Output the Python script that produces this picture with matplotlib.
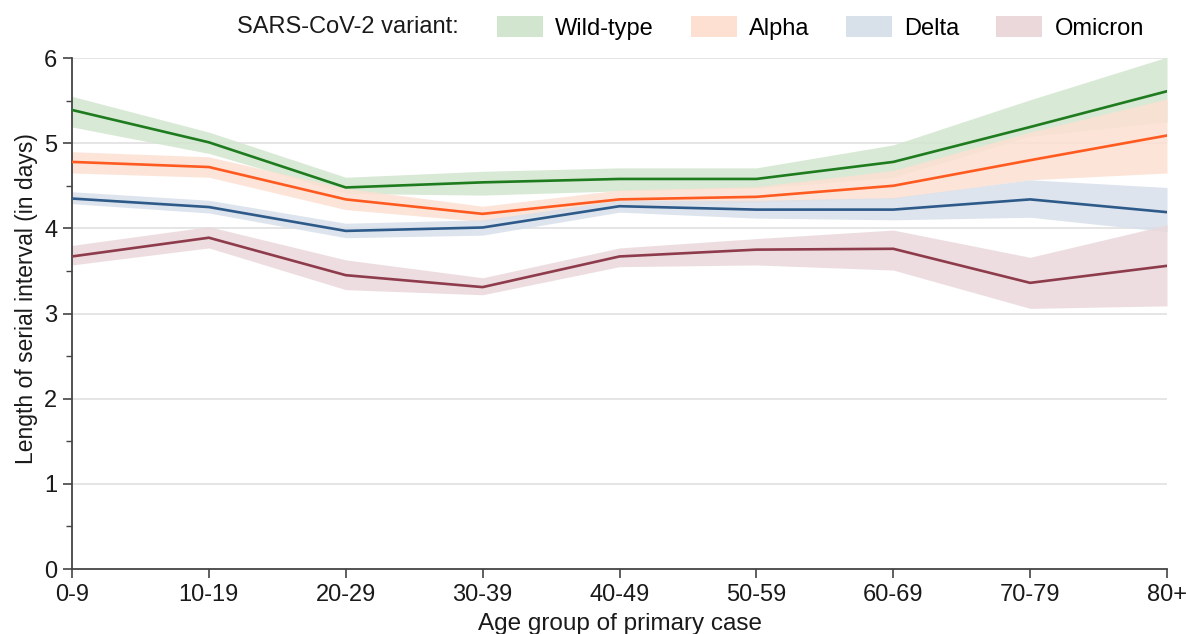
import matplotlib
matplotlib.use("Agg")
import matplotlib.pyplot as plt
from matplotlib.patches import Patch
import numpy as np

plt.rcParams['font.family'] = ['Liberation Sans', 'DejaVu Sans']

# Data
# ---------------------------
age_groups = ['0-9', '10-19', '20-29', '30-39', '40-49', '50-59', '60-69', '70-79', '80+']

wild_mid = [5.39, 5.01, 4.48, 4.54, 4.58, 4.58, 4.78, 5.19, 5.61]
wild_lo  = [5.19, 4.88, 4.41, 4.39, 4.44, 4.47, 4.60, 5.08, 5.25]
wild_hi  = [5.55, 5.13, 4.60, 4.67, 4.71, 4.71, 4.98, 5.51, 6.01]

alpha_mid = [4.78, 4.72, 4.34, 4.17, 4.34, 4.37, 4.50, 4.80, 5.09]
alpha_lo  = [4.65, 4.60, 4.22, 4.08, 4.25, 4.31, 4.35, 4.57, 4.65]
alpha_hi  = [4.90, 4.84, 4.47, 4.26, 4.45, 4.49, 4.68, 5.13, 5.52]

delta_mid = [4.35, 4.25, 3.97, 4.01, 4.26, 4.22, 4.22, 4.34, 4.19]
delta_lo  = [4.29, 4.18, 3.89, 3.92, 4.19, 4.12, 4.10, 4.13, 3.96]
delta_hi  = [4.43, 4.33, 4.06, 4.10, 4.33, 4.33, 4.36, 4.57, 4.48]

omi_mid = [3.67, 3.89, 3.45, 3.31, 3.67, 3.75, 3.76, 3.36, 3.56]
omi_lo  = [3.57, 3.77, 3.28, 3.22, 3.55, 3.57, 3.51, 3.06, 3.09]
omi_hi  = [3.80, 4.02, 3.63, 3.42, 3.77, 3.88, 3.98, 3.66, 4.04]

variants = ['Wild-type', 'Alpha', 'Delta', 'Omicron']
line_colors = ['#1e7b1e', '#ff5a1f', '#2e5a8a', '#8e3b4b']
fill_colors = ['#d2e6cf', '#fde0d2', '#d8e0ea', '#ead8db']

series = [
  (wild_mid, wild_lo, wild_hi),
  (alpha_mid, alpha_lo, alpha_hi),
  (delta_mid, delta_lo, delta_hi),
  (omi_mid, omi_lo, omi_hi),
]

# --------------------------------------------------------------------------------------------------

x = np.arange(len(age_groups))
fs = 17

fig = plt.figure(figsize=(11.86, 6.34), dpi=100)
ax = fig.add_axes([0.0607, 0.1025, 0.9233, 0.806])

# confidence bands first, then the lines on top
for (mid, lo, hi), fc in zip(series, fill_colors):
  ax.fill_between(x, lo, hi, color=fc, alpha=0.85, linewidth=0, zorder=2)
for (mid, lo, hi), lc in zip(series, line_colors):
  ax.plot(x, mid, color=lc, linewidth=1.9, zorder=3)

ax.set_xlim(0, len(age_groups) - 1)
ax.set_ylim(0, 6)
ax.set_xticks(x)
ax.set_xticklabels(age_groups)
ax.set_yticks(range(0, 7))
ax.set_yticks(np.arange(0.5, 6, 1.0), minor=True)

for y in range(1, 7):
  ax.axhline(y, color='#e3e3e3', linewidth=1.3, zorder=1)

for s in ['top', 'right']:
  ax.spines[s].set_visible(False)
for s in ['left', 'bottom']:
  ax.spines[s].set_color('#444444')
  ax.spines[s].set_linewidth(1.3)

ax.tick_params(axis='both', which='major', labelsize=fs, colors='#444444',
               labelcolor='#1a1a1a', length=6.5, width=1.2)
ax.tick_params(axis='x', which='major', pad=4.5)
ax.tick_params(axis='y', which='major', pad=4)
ax.tick_params(axis='y', which='minor', length=4, width=1.0, colors='#444444')

ax.set_ylabel('Length of serial interval (in days)', fontsize=16.5, color='#1a1a1a')
ax.yaxis.set_label_coords(-0.031, 0.53)

fig.text(0.5225, 1 - 630 / 634, 'Age group of primary case', fontsize=17.5,
         color='#1a1a1a', ha='center', va='baseline')

fig.text(0.387, 0.957, 'SARS-CoV-2 variant:', fontsize=fs, color='#1a1a1a',
         ha='right', va='center')
handles = [Patch(facecolor=fc, edgecolor='none') for fc in fill_colors]
fig.legend(handles, variants, loc='center left', bbox_to_anchor=(0.419, 0.956),
           ncol=4, frameon=False, fontsize=fs, handlelength=1.95, handleheight=1.0,
           handletextpad=0.52, columnspacing=1.55, borderpad=0, borderaxespad=0)

plt.savefig('out.png', dpi=100)
